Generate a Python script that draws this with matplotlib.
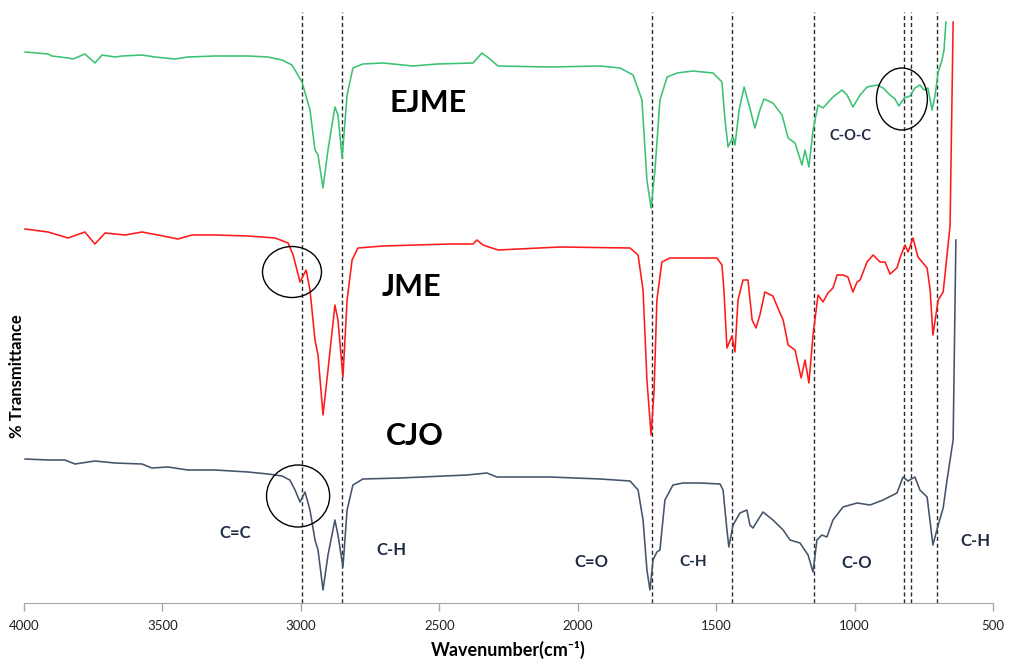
"""
FTIR spectra of CJO, JME and EJME, stacked with offsets.
"""

import matplotlib.pyplot as plt
from matplotlib.patches import Ellipse

plt.rcParams["font.family"] = ["Lato", "DejaVu Sans"]

c_green = "#3cc274"
c_red = "#ff1a1a"
c_dark = "#44546a"
c_text = "#1f2a44"

# ------------------------------------------------------------------ #
#                     Spectra                     #
# ------------------------------------------------------------------ #
ejme_wn = [3996, 3913, 3899, 3841, 3823, 3780, 3744, 3718, 3671, 3646, 3574, 3527, 3455,
           3408, 3310, 3191, 3119, 3068, 3032, 2996, 2967, 2949, 2938, 2920, 2902, 2877,
           2866, 2851, 2833, 2812, 2776, 2703, 2595, 2508, 2378, 2346, 2317, 2288, 2100,
           1919, 1847, 1800, 1768, 1750, 1735, 1721, 1703, 1677, 1641, 1584, 1511, 1479,
           1468, 1457, 1439, 1432, 1417, 1399, 1381, 1360, 1342, 1327, 1295, 1262, 1240,
           1215, 1190, 1179, 1165, 1150, 1132, 1114, 1078, 1045, 1027, 1006, 980, 955,
           919, 897, 872, 854, 840, 821, 800, 782, 764, 749, 735, 720, 709, 698, 684,
           677, 670]
ejme_t = [551, 549, 547, 545, 544, 549, 540, 548, 546, 547, 548, 546, 544,
          546, 547, 547, 546, 543, 538, 521, 493, 453, 448, 415, 453, 496,
          488, 445, 508, 535, 539, 540, 537, 539, 540, 550, 544, 537, 536,
          537, 535, 528, 503, 423, 395, 433, 503, 526, 530, 532, 530, 521,
          483, 456, 466, 458, 493, 516, 498, 475, 493, 504, 500, 488, 465,
          460, 438, 453, 436, 473, 498, 495, 506, 513, 508, 496, 508, 516,
          518, 515, 508, 504, 497, 505, 507, 515, 518, 513, 515, 493, 508, 531, 543,
          553, 581]

jme_wn = [3996, 3913, 3841, 3780, 3744, 3707, 3635, 3574, 3516, 3444, 3393, 3310, 3191,
          3093, 3046, 3028, 3014, 3003, 2981, 2967, 2949, 2938, 2920, 2902, 2877, 2866,
          2848, 2833, 2815, 2794, 2703, 2580, 2461, 2378, 2364, 2342, 2288, 2064, 1811,
          1782, 1764, 1750, 1735, 1724, 1714, 1696, 1667, 1558, 1497, 1479, 1472, 1461,
          1443, 1432, 1421, 1403, 1385, 1370, 1356, 1342, 1324, 1295, 1277, 1258, 1240,
          1215, 1193, 1179, 1165, 1150, 1132, 1114, 1096, 1078, 1063, 1042, 1024, 1006,
          991, 980, 955, 933, 908, 890, 872, 847, 836, 818, 807, 789, 771, 756, 738,
          727, 717, 698, 680, 666, 655, 644]
jme_t = [374, 371, 365, 371, 359, 370, 368, 371, 368, 364, 368, 368, 367,
         365, 360, 348, 333, 321, 333, 313, 263, 248, 188, 233, 298, 283,
         226, 303, 343, 355, 357, 358, 359, 359, 363, 358, 353, 356, 355,
         348, 313, 223, 168, 213, 303, 341, 345, 345, 345, 338, 313, 255,
         267, 251, 303, 323, 323, 283, 275, 288, 311, 307, 295, 283, 258,
         253, 225, 243, 220, 268, 308, 301, 310, 315, 328, 328, 326, 311,
         321, 323, 341, 348, 341, 341, 329, 335, 345, 358, 351, 365, 346, 341, 335,
         313, 268, 303, 311, 348, 378, 581]

cjo_wn = [3996, 3913, 3852, 3816, 3744, 3671, 3574, 3538, 3480, 3408, 3310, 3191, 3119,
          3068, 3040, 3021, 3003, 2985, 2967, 2949, 2938, 2920, 2902, 2877, 2866, 2848,
          2833, 2812, 2776, 2642, 2400, 2328, 2292, 2100, 1919, 1811, 1782, 1764, 1750,
          1739, 1728, 1714, 1703, 1685, 1656, 1620, 1558, 1486, 1475, 1461, 1454, 1439,
          1414, 1389, 1378, 1367, 1331, 1295, 1258, 1233, 1197, 1168, 1150, 1136, 1118,
          1100, 1078, 1042, 991, 944, 897, 847, 825, 807, 782, 764, 738, 717, 698,
          680, 666, 655, 644, 634]
cjo_t = [144, 143, 143, 139, 142, 140, 139, 135, 136, 133, 133, 131, 129,
         127, 123, 113, 101, 111, 93, 63, 53, 13, 48, 83, 68, 36,
         93, 118, 124, 125, 128, 130, 126, 126, 124, 122, 113, 83, 33,
         13, 43, 51, 53, 103, 118, 120, 120, 119, 113, 73, 56, 78,
         90, 93, 78, 75, 91, 83, 73, 63, 60, 48, 31, 63, 68,
         66, 83, 96, 100, 98, 103, 110, 126, 122, 126, 113, 106, 58, 78,
         95, 123, 143, 163, 363]

band_wn = [2996, 2851, 1730, 1442, 1147, 821, 796, 704]
x_ticks = [4000, 3500, 3000, 2500, 2000, 1500, 1000, 500]

# ------------------------------------------------------------------ #
#                                Plot                                #
# ------------------------------------------------------------------ #
fig = plt.figure(figsize=(10.09, 6.64), dpi=100)
ax = fig.add_axes([24 / 1009, 61 / 664, 969 / 1009, 591 / 664])

for wn in band_wn:
    ax.axvline(wn, color="#2a2a2a", lw=1.0, ls=(0, (3, 2)), zorder=1)

for wn_vals, t_vals, col in [(ejme_wn, ejme_t, c_green), (jme_wn, jme_t, c_red),
                             (cjo_wn, cjo_t, c_dark)]:
    ax.plot(wn_vals, t_vals, color=col, lw=1.15, solid_joinstyle="round", zorder=2)

for (cx, cy, w, h) in [(829, 504, 184, 62), (3032, 331, 213, 51), (3010, 107, 228, 62)]:
    ax.add_patch(Ellipse((cx, cy), w, h, fill=False, edgecolor="black", lw=1.0, zorder=3))

ax.text(2541, 500, "EJME", fontsize=22, fontweight="bold", ha="center", va="center")
ax.text(2599, 316, "JME", fontsize=22, fontweight="bold", ha="center", va="center")
ax.text(2588, 167, "CJO", fontsize=22, fontweight="bold", ha="center", va="center")

bands = [(3238, 70, "C=C", 12), (2674, 53, "C-H", 12), (1952, 41, "C=O", 12),
         (1584, 41, "C-H", 11), (991, 40, "C-O", 12), (565, 62, "C-H", 12),
         (1013, 467, "C-O-C", 10.5)]
for bx, by, txt, fs in bands:
    ax.text(bx, by, txt, fontsize=fs, fontweight="bold", color=c_text,
            ha="center", va="center")

ax.set_xlim(4000, 500)
ax.set_ylim(0, 591)
ax.set_xticks(x_ticks)
ax.set_yticks([])
for side in ["top", "right", "left"]:
    ax.spines[side].set_visible(False)
ax.spines["bottom"].set_color("#a6a6a6")
ax.tick_params(axis="x", length=6, width=1, color="#a6a6a6", labelsize=9.5,
               labelcolor="#222222", pad=6)
ax.set_xlabel("Wavenumber(cm⁻¹)", fontsize=13, fontweight="bold", labelpad=7)
fig.text(17 / 1009, 1 - 376 / 664, "% Transmittance", rotation=90, fontsize=12,
         fontweight="bold", ha="center", va="center")

plt.savefig("out.png", dpi=100)
